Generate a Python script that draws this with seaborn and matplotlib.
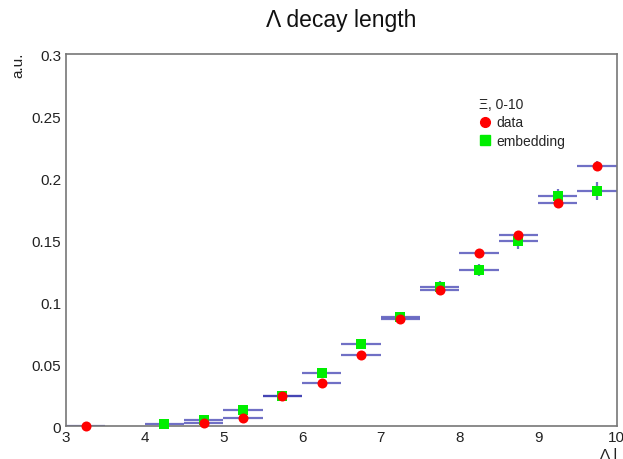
import numpy as np
import pandas as pd
import matplotlib
matplotlib.use("Agg")
import matplotlib.pyplot as plt
import seaborn as sns
from matplotlib.ticker import MultipleLocator, FixedLocator

# ---- data ----
bin_centers = [3.25, 3.75, 4.25, 4.75, 5.25, 5.75, 6.25, 6.75, 7.25, 7.75, 8.25, 8.75, 9.25, 9.75]
data_vals = [0.0, np.nan, np.nan, 0.0025, 0.0065, 0.024, 0.035, 0.057, 0.0865, 0.1097, 0.1395, 0.154, 0.180, 0.2097]
data_err = [0.0, 0.0, 0.0, 0.001, 0.0015, 0.002, 0.002, 0.0025, 0.003, 0.003, 0.0035, 0.0035, 0.004, 0.004]
emb_vals = [np.nan, np.nan, 0.0015, 0.005, 0.013, 0.0245, 0.043, 0.066, 0.088, 0.112, 0.1258, 0.149, 0.1855, 0.1895]
emb_err = [0.0, 0.0, 0.001, 0.0015, 0.002, 0.003, 0.003, 0.004, 0.004, 0.005, 0.005, 0.006, 0.006, 0.007]
bin_half = 0.25
xticks = [3, 4, 5, 6, 7, 8, 9, 10]
yticks = [0, 0.05, 0.1, 0.15, 0.2, 0.25, 0.3]
ytick_labels = ["0", "0.05", "0.1", "0.15", "0.2", "0.25", "0.3"]

sns.set_style("white")
plt.rcParams['font.family'] = ['Liberation Sans', 'DejaVu Sans']

fig = plt.figure(figsize=(6.23, 4.60), dpi=100)
ax = fig.add_axes([0.106, 0.0717, 0.884, 0.8087])

ebc = (0.2, 0.2, 0.68, 0.7)
ax.errorbar(bin_centers, emb_vals, xerr=bin_half, yerr=emb_err, fmt='none',
            ecolor=ebc, elinewidth=1.6, capsize=0, zorder=2)
ax.errorbar(bin_centers, data_vals, xerr=bin_half, yerr=data_err, fmt='none',
            ecolor=ebc, elinewidth=1.6, capsize=0, zorder=2)

df_emb = pd.DataFrame({'x': bin_centers, 'y': emb_vals}).dropna()
df_data = pd.DataFrame({'x': bin_centers, 'y': data_vals}).dropna()
sns.scatterplot(data=df_emb, x='x', y='y', color='#00ee00', marker='s',
                s=48, linewidth=0, ax=ax, zorder=3, legend=False, clip_on=False)
sns.scatterplot(data=df_data, x='x', y='y', color='#ff0000', marker='o',
                s=52, linewidth=0, ax=ax, zorder=4, legend=False, clip_on=False)

ax.set_xlim(3, 10)
ax.set_ylim(0, 0.3)
ax.xaxis.set_major_locator(FixedLocator(xticks))
ax.xaxis.set_minor_locator(MultipleLocator(0.2))
ax.yaxis.set_major_locator(FixedLocator(yticks))
ax.set_yticklabels(ytick_labels)
ax.yaxis.set_minor_locator(MultipleLocator(0.01))
ax.tick_params(axis='both', which='major', direction='in', length=11, width=1,
               color='#444444', labelsize=11, labelcolor='#222222')
ax.tick_params(axis='both', which='minor', direction='in', length=6, width=1, color='#444444')
ax.tick_params(axis='x', pad=3)
ax.tick_params(top=False, right=False, which='both')
for sp in ax.spines.values():
    sp.set_color('#777777')
    sp.set_linewidth(1.2)
ax.set_xlabel('')
ax.set_ylabel('')

fig.text(0.99, -0.004, 'Λ l', ha='right', va='bottom', fontsize=11, color='#222222')
fig.text(0.018, 0.885, 'a.u.', ha='left', va='top', rotation=90, fontsize=11, color='#222222')
fig.text(0.547, 0.955, 'Λ decay length', ha='center', va='center', fontsize=16.5, color='#111111')

# legend
from matplotlib.lines import Line2D
handles = [Line2D([], [], marker='o', color='#ff0000', linestyle='none', markersize=7),
           Line2D([], [], marker='s', color='#00ee00', linestyle='none', markersize=7)]
leg = ax.legend(handles, ['data', 'embedding'], title='Ξ, 0-10', loc='upper left',
                bbox_to_anchor=(0.733, 0.91), frameon=False, fontsize=10,
                title_fontsize=10, handlelength=0.8, handletextpad=0.45,
                labelspacing=0.3, borderpad=0.2)
leg._legend_box.align = 'left'

fig.savefig('out.png', dpi=100)
